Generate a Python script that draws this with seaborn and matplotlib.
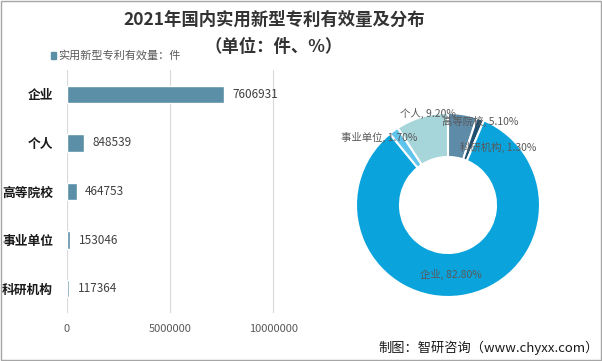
import matplotlib
matplotlib.use("Agg")
import matplotlib.pyplot as plt
import seaborn as sns
import pandas as pd
from matplotlib.patches import Rectangle

sns.set_theme(style="white")
plt.rcParams['font.family'] = ['Noto Sans CJK SC', 'DejaVu Sans']

# ---- data ----
categories = ["企业", "个人", "高等院校", "事业单位", "科研机构"]
counts = [7606931, 848539, 464753, 153046, 117364]
pie_labels = ["高等院校", "科研机构", "企业", "事业单位", "个人"]
pie_shares = [5.10, 1.30, 82.80, 1.70, 9.20]
pie_colors = ["#5E8CA8", "#1F4E6E", "#0AA3DC", "#5FC4EC", "#A6D5DA"]
xticks = [0, 5000000, 10000000]
legend_label = "实用新型专利有效量：件"

W, H = 602, 361
fig = plt.figure(figsize=(W / 100, H / 100), dpi=100)

def fx(px):
    return px / W

def fy(py):
    return 1 - py / H

# ---- bar chart ----
ax = fig.add_axes([fx(67), fy(313), fx(304) - fx(67), fy(70) - fy(313)])
df = pd.DataFrame({"cat": categories, "val": counts})
sns.barplot(data=df, y="cat", x="val", orient="h", color="#5B8FA8",
            width=0.36, ax=ax, saturation=1)
ax.set_xlim(0, 11500000)
ax.set_xticks(xticks)
ax.set_xticklabels([str(t) for t in xticks], fontsize=8, color="#595959")
ax.xaxis.grid(True, color="#D9D9D9", linewidth=0.8)
ax.set_axisbelow(True)
for s in ax.spines.values():
    s.set_visible(False)
ax.set_xlabel("")
ax.set_ylabel("")
ax.tick_params(axis="x", length=0, pad=8)
ax.tick_params(axis="y", length=0, pad=10)
for lab in ax.get_yticklabels():
    lab.set_fontweight("bold")
    lab.set_fontsize(9.2)
    lab.set_color("#1A1A1A")
ax.bar_label(ax.containers[0], labels=[str(v) for v in counts], padding=6,
             fontsize=8.5, color="#404040")

# legend
fig.patches.append(Rectangle((fx(51), fy(59)), fx(5), fy(52) - fy(59),
                             transform=fig.transFigure, color="#5B8FA8"))
fig.text(fx(58), fy(55.5), legend_label, fontsize=8, color="#595959",
         va="center", ha="left")

# ---- donut ----
pax = fig.add_axes([fx(348), fy(305), fx(200), fy(105) - fy(305)])
pax.pie(pie_shares, colors=pie_colors, startangle=90, counterclock=False,
        radius=0.92, wedgeprops=dict(width=0.44, edgecolor="white", linewidth=1.5))
pax.set_xlim(-1, 1)
pax.set_ylim(-1, 1)
pax.set_aspect("equal")
pax.axis("off")

label_pos = {
    "高等院校": (442, 121),
    "科研机构": (460, 147),
    "企业": (420, 274),
    "事业单位": (341, 137),
    "个人": (400, 113),
}
for lab, share in zip(pie_labels, pie_shares):
    x, y = label_pos[lab]
    fig.text(fx(x), fy(y), f"{lab}, {share:.2f}%", fontsize=7.5,
             color="#595959", ha="left", va="center")

# ---- titles ----
fig.text(fx(274), fy(20), "2021年国内实用新型专利有效量及分布", fontsize=12.5,
         fontweight="bold", color="#333333", ha="center", va="center")
fig.text(fx(274), fy(47), "（单位：件、%）", fontsize=12.5,
         fontweight="bold", color="#333333", ha="center", va="center")
fig.text(fx(599), fy(348), "制图：智研咨询（www.chyxx.com）", fontsize=9.5,
         color="#1A1A1A", ha="right", va="center")

# border
fig.patches.append(Rectangle((0.001, 0.002), 0.997, 0.995, transform=fig.transFigure,
                             fill=False, edgecolor="#A6A6A6", linewidth=1))

fig.savefig("out.png", dpi=100)
